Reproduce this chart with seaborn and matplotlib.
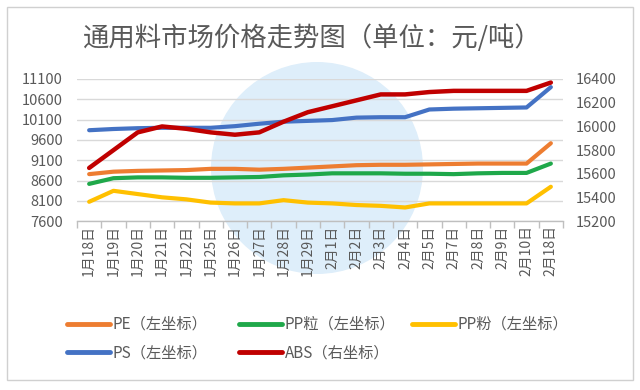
"""
通用料市场价格走势图 - 双坐标折线图
"""

import matplotlib
matplotlib.use("Agg")
import matplotlib.pyplot as plt
from matplotlib.patches import Ellipse, Rectangle
from matplotlib.ticker import FixedLocator
import pandas as pd
import seaborn as sns

# 日期（类目轴）
dates = ["1月18日", "1月19日", "1月20日", "1月21日", "1月22日", "1月25日", "1月26日",
         "1月27日", "1月28日", "1月29日", "2月1日", "2月2日", "2月3日", "2月4日",
         "2月5日", "2月7日", "2月8日", "2月9日", "2月10日", "2月18日"]

# 左坐标
pe = [8760, 8820, 8840, 8850, 8860, 8890, 8890, 8870, 8890, 8920,
      8950, 8980, 8990, 8990, 9000, 9010, 9020, 9020, 9020, 9520]
pp_li = [8520, 8660, 8680, 8680, 8670, 8670, 8680, 8690, 8730, 8750,
         8780, 8780, 8780, 8770, 8770, 8760, 8780, 8790, 8790, 9020]
pp_fen = [8080, 8350, 8270, 8190, 8140, 8060, 8040, 8040, 8120, 8060,
          8040, 8000, 7980, 7940, 8040, 8040, 8040, 8040, 8040, 8450]
ps = [9840, 9870, 9890, 9900, 9900, 9900, 9940, 10000, 10050, 10070,
      10090, 10150, 10160, 10160, 10350, 10370, 10380, 10390, 10400, 10900]

# 右坐标
abs_ = [15650, 15800, 15950, 16000, 15980, 15950, 15930, 15950, 16040, 16120,
        16170, 16220, 16270, 16270, 16290, 16300, 16300, 16300, 16300, 16370]

left_names = ["PE（左坐标）", "PP粒（左坐标）", "PP粉（左坐标）", "PS（左坐标）"]
abs_name = "ABS（右坐标）"
left_ticks = [7600, 8100, 8600, 9100, 9600, 10100, 10600, 11100]
right_ticks = [15200, 15400, 15600, 15800, 16000, 16200, 16400]

colors = {
    "PE（左坐标）": "#ED7D31",
    "PP粒（左坐标）": "#1FA84A",
    "PP粉（左坐标）": "#FFC000",
    "PS（左坐标）": "#4472C4",
    "ABS（右坐标）": "#C00000",
}

sns.set_theme(style="white")
plt.rcParams["font.family"] = ["Noto Sans CJK SC", "DejaVu Sans"]
TXT = "#595959"

rows = []
for name, vals in zip(left_names, [pe, pp_li, pp_fen, ps]):
    for i, v in enumerate(vals):
        rows.append({"x": i, "价格": v, "品种": name})
df = pd.DataFrame(rows)
df_abs = pd.DataFrame({"x": range(len(dates)), "价格": abs_})

fig = plt.figure(figsize=(6.4, 3.9), dpi=100)
W, H = 640, 390

# 背景水印圆 + 外框
fig.patches.append(Ellipse((317 / W, 1 - 168 / H), 212 / W, 212 / H,
                           transform=fig.transFigure, facecolor="#deeefa",
                           edgecolor="none", zorder=-1))
fig.patches.append(Rectangle((7 / W, 1 - 380 / H), 625.5 / W, 373 / H,
                             transform=fig.transFigure, fill=False,
                             edgecolor="#d0d0d0", lw=1, zorder=-1))

ax = fig.add_axes([77 / W, 1 - 221.3 / H, 486 / W, 142.3 / H])
ax.set_facecolor("none")

sns.lineplot(data=df, x="x", y="价格", hue="品种", hue_order=left_names,
             palette=colors, lw=3, ax=ax, legend=False)
ax2 = ax.twinx()
sns.lineplot(data=df_abs, x="x", y="价格", color=colors[abs_name], lw=3.2,
             ax=ax2, legend=False)

ax.set_xlim(-0.5, len(dates) - 0.5)
ax.set_ylim(7600, 11100)
ax2.set_ylim(15200, 16400)
ax.set_yticks(left_ticks)
ax2.set_yticks(right_ticks)
ax.set_xticks(range(len(dates)))
ax.set_xticklabels(dates, rotation=90, fontsize=10, color=TXT)
ax.xaxis.set_minor_locator(FixedLocator([i - 0.5 for i in range(len(dates) + 1)]))
ax.tick_params(axis="x", which="major", length=0, pad=3)
ax.tick_params(axis="x", which="minor", length=5, color="#bfbfbf", width=1, bottom=True)
ax.tick_params(axis="y", length=0, pad=10, labelsize=10.5, labelcolor=TXT)
ax2.tick_params(axis="y", length=0, pad=9, labelsize=10.5, labelcolor=TXT)
ax.set_xlabel("")
ax.set_ylabel("")
ax2.set_ylabel("")

ax.yaxis.grid(True, color="#d9d9d9", lw=1)
for s in ["top", "left", "right"]:
    ax.spines[s].set_visible(False)
    ax2.spines[s].set_visible(False)
ax2.spines["bottom"].set_visible(False)
ax.spines["bottom"].set_color("#bfbfbf")
ax.spines["bottom"].set_linewidth(1)

fig.text(312 / W, 1 - 38 / H, "通用料市场价格走势图（单位：元/吨）",
         ha="center", va="center", fontsize=19, color=TXT, fontweight="light")

# 图例：Excel风格固定列宽，分三列放置
handles = {n: plt.Line2D([], [], color=c, lw=3.5) for n, c in colors.items()}
columns = [["PE（左坐标）", "PS（左坐标）"], ["PP粒（左坐标）", abs_name], ["PP粉（左坐标）"]]
for x0, names in zip([67, 239, 412], columns):
    leg = fig.legend([handles[n] for n in names], names, loc="upper left",
                     bbox_to_anchor=(x0 / W, 1 - 316 / H), frameon=False,
                     fontsize=11, handlelength=2.8, handletextpad=0.2,
                     labelspacing=0.75, borderpad=0, borderaxespad=0)
    for t in leg.get_texts():
        t.set_color(TXT)

fig.savefig("out.png", dpi=100)
